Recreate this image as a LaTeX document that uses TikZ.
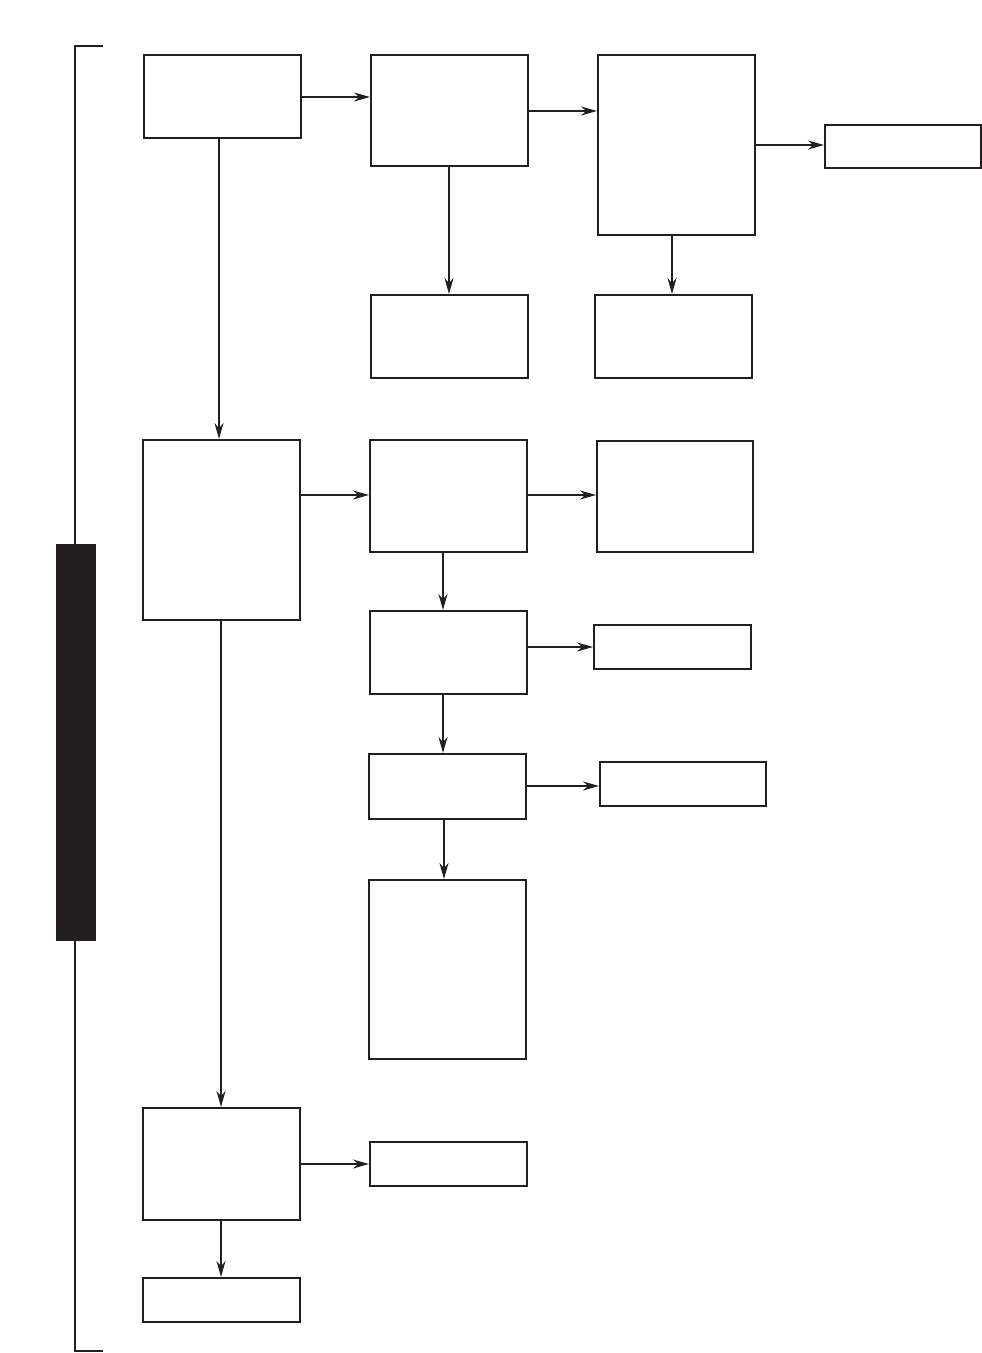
\documentclass[tikz,border=0pt]{standalone}
\usetikzlibrary{arrows.meta}
\definecolor{ink}{HTML}{231F20}
\begin{document}
\begin{tikzpicture}[x=1pt,y=-1pt,
  box/.style={draw=ink,line width=2pt,inner sep=0},
  conn/.style={draw=ink,line width=1.8pt,-{Stealth[length=16pt,width=9pt]}}]
\useasboundingbox (0,0) rectangle (982,1353);
% bracket
\draw[ink,line width=2pt] (103,46) -- (75,46) -- (75,1351) -- (103,1351);
\fill[ink] (56,544) rectangle (96,941);
% boxes
\node[box,minimum width=157pt,minimum height=83pt] (A) at (222.5,96.5) {};
\node[box,minimum width=157pt,minimum height=111pt] (B) at (449.5,110.5) {};
\node[box,minimum width=157pt,minimum height=180pt] (C) at (676.5,145) {};
\node[box,minimum width=156pt,minimum height=43pt] (D) at (903,146.5) {};
\node[box,minimum width=157pt,minimum height=83pt] (E) at (449.5,336.5) {};
\node[box,minimum width=157pt,minimum height=83pt] (F) at (673.5,336.5) {};
\node[box,minimum width=157pt,minimum height=180pt] (G) at (221.5,530) {};
\node[box,minimum width=157pt,minimum height=112pt] (H) at (448.5,496) {};
\node[box,minimum width=156pt,minimum height=111pt] (I) at (675,496.5) {};
\node[box,minimum width=157pt,minimum height=83pt] (J) at (448.5,652.5) {};
\node[box,minimum width=157pt,minimum height=44pt] (K) at (672.5,647) {};
\node[box,minimum width=157pt,minimum height=65pt] (L) at (447.5,786.5) {};
\node[box,minimum width=166pt,minimum height=44pt] (M) at (683,784) {};
\node[box,minimum width=157pt,minimum height=179pt] (N) at (447.5,969.5) {};
\node[box,minimum width=157pt,minimum height=112pt] (O) at (221.5,1164) {};
\node[box,minimum width=157pt,minimum height=44pt] (P) at (448.5,1164) {};
\node[box,minimum width=157pt,minimum height=44pt] (Q) at (221.5,1300) {};
% connectors
\draw[conn] (A.east |- 0,97) -- (B.west |- 0,97);
\draw[conn] (B.east |- 0,111) -- (C.west |- 0,111);
\draw[conn] (C.east |- 0,145) -- (D.west |- 0,145);
\draw[conn] (B.south -| 449,0) -- (E.north -| 449,0);
\draw[conn] (C.south -| 672,0) -- (F.north -| 672,0);
\draw[conn] ([yshift=2pt]A.south -| 219,0) -- (G.north -| 219,0);
\draw[conn] (G.east |- 0,495) -- (H.west |- 0,495);
\draw[conn] (H.east |- 0,495) -- (I.west |- 0,495);
\draw[conn] (H.south -| 443,0) -- (J.north -| 443,0);
\draw[conn] (J.east |- 0,647) -- (K.west |- 0,647);
\draw[conn] (J.south -| 443,0) -- (L.north -| 443,0);
\draw[conn] (L.east |- 0,786) -- (M.west |- 0,786);
\draw[conn] (L.south -| 444,0) -- (N.north -| 444,0);
\draw[conn] (G.south -| 221,0) -- (O.north -| 221,0);
\draw[conn] (O.east |- 0,1164) -- (P.west |- 0,1164);
\draw[conn] (O.south -| 221,0) -- (Q.north -| 221,0);
\end{tikzpicture}
\end{document}
